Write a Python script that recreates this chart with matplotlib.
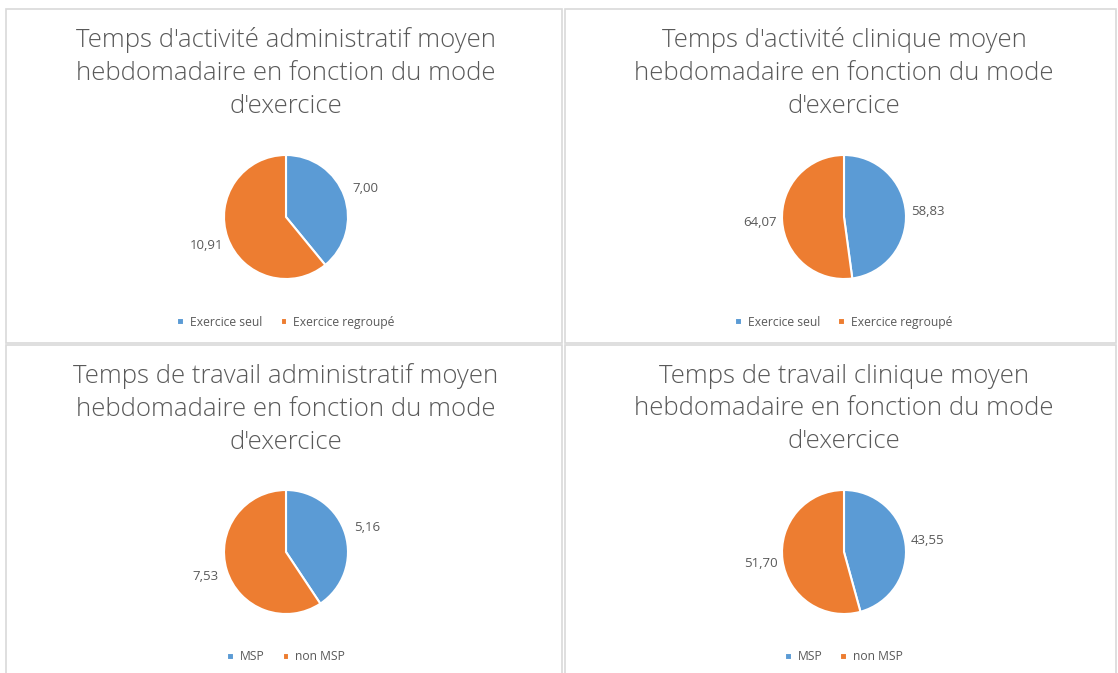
import numpy as np
import matplotlib
matplotlib.use("Agg")
import matplotlib.pyplot as plt
from matplotlib.patches import Rectangle

# data
titles = [
    "Temps d'activité administratif moyen\nhebdomadaire en fonction du mode\nd'exercice",
    "Temps d'activité clinique moyen\nhebdomadaire en fonction du mode\nd'exercice",
    "Temps de travail administratif moyen\nhebdomadaire en fonction du mode\nd'exercice",
    "Temps de travail clinique moyen\nhebdomadaire en fonction du mode\nd'exercice",
]
labels_top = ["Exercice seul", "Exercice regroupé"]
labels_bottom = ["MSP", "non MSP"]
admin_activity = [7.00, 10.91]
clinic_activity = [58.83, 64.07]
admin_work = [5.16, 7.53]
clinic_work = [43.55, 51.70]

colors = ['#5B9BD5', '#ED7D31']
txt_col = '#595959'

W, H = 1118, 673
fig = plt.figure(figsize=(W / 100, H / 100), dpi=100)
fig.patch.set_facecolor('white')

def fx(px):
    return px / W

def fy(py):
    return 1 - py / H

# panel frames (pixels: x0, y0, x1, y1)
frames = [(6, 9, 562, 343), (565, 9, 1116, 343),
          (6, 345, 562, 680), (565, 345, 1116, 680)]
for x0, y0, x1, y1 in frames:
    fig.patches.append(Rectangle((fx(x0), fy(y1)), fx(x1 - x0), (y1 - y0) / H,
                                 transform=fig.transFigure, fill=False,
                                 edgecolor='#d9d9d9', linewidth=1.2))

# values, legend labels, pie centre x/y, title middle line y, legend y (px)
panels = [
    (admin_activity, labels_top, 286, 217, 73, 322),
    (clinic_activity, labels_top, 844, 217, 73, 322),
    (admin_work, labels_bottom, 286, 552, 409, 657),
    (clinic_work, labels_bottom, 844, 552, 409, 657),
]

R = 62  # pie radius in px
half = 150
lim = half / R

for i, (vals, labs, cx, cy, ty, ly) in enumerate(panels):
    fig.text(fx(cx), fy(ty), titles[i], ha='center', va='center',
             fontsize=18.5, color=txt_col, family='Open Sans',
             fontweight='light', linespacing=1.4)
    ax = fig.add_axes([fx(cx - half), fy(cy + half), 2 * half / W, 2 * half / H])
    wedges, _ = ax.pie(vals, colors=colors, startangle=90, counterclock=False,
                       radius=1, wedgeprops=dict(edgecolor='white', linewidth=1.5))
    ax.set_xlim(-lim, lim)
    ax.set_ylim(-lim, lim)
    ax.set_aspect('equal')
    ax.axis('off')
    for w, v in zip(wedges, vals):
        ang = np.deg2rad((w.theta1 + w.theta2) / 2)
        d = 1.36
        ax.text(d * np.cos(ang), d * np.sin(ang), f"{v:.2f}".replace('.', ','),
                ha='center', va='center', fontsize=9.5, color=txt_col,
                family='Open Sans')
    fig.legend(wedges, labs, loc='center', bbox_to_anchor=(fx(cx), fy(ly)),
               ncol=2, frameon=False, labelcolor=txt_col,
               handlelength=0.55, handleheight=0.55, handletextpad=0.5,
               columnspacing=1.5, prop=dict(family='Open Sans', size=8.7))

fig.savefig('out.png', dpi=100, facecolor='white')
